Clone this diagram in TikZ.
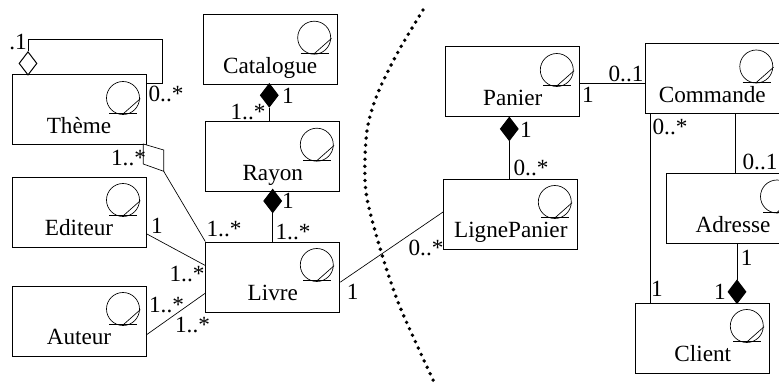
\documentclass[tikz,border=0pt]{standalone}
\usepackage{fontspec}
\setmainfont{Liberation Serif}
\usepackage{tikz}
\usetikzlibrary{shapes.geometric}
\tikzset{
  classe/.style = 	{shape=rectangle, draw, inner sep=0pt, align=center,
				text width=100.5pt, text height=43.9pt, text depth=8.6pt,
				path picture={
					\draw [icone] ([shift={(-23,23)}]path picture bounding box.north east) circle [radius=16.5];
					\draw [icone] ([shift={(-36.7,38.7)}]path picture bounding box.north east) -- ++(28,0);
					\draw [icone] ([shift={(-22.7,38.7)}]path picture bounding box.north east) -- ++(17,-15);
				}},
  icone/.style = 	{line width=0.5pt},
  losange/.style = 	{shape=diamond, draw, inner sep=0pt, minimum width=13.5pt, minimum height=17.6pt},
  vide/.style = 	{losange, fill=white},
  plein/.style = 	{losange, fill=black},
  mult/.style = 	{anchor=base, inner sep=0pt},
  lien/.style = 	{draw, line width=0.7pt},
  frontiere/.style = 	{line width=2.9pt, line cap=round, dash pattern=on 0pt off 5.3pt},
}
\begin{document}
\begin{tikzpicture}
	[
		x                 = 0.75pt,
		y                 = -0.75pt,
		line width        = 0.75pt,
		every node/.style = {font=\fontsize{17.4}{20}\selectfont}
	]
	\path [use as bounding box, clip] (0,0) rectangle (779,385);
	% classes
	\node [classe] (theme) at (79,110) {Thème};
	\node [classe] (editeur) at (79,212) {Editeur};
	\node [classe] (auteur) at (79,321) {Auteur};
	\node [classe] (catalogue) at (270.2,49.7) {Catalogue};
	\node [classe] (rayon) at (272.8,156.7) {Rayon};
	\node [classe] (livre) at (272.8,277) {Livre};
	\node [classe] (panier) at (512.8,82) {Panier};
	\node [classe] (lignepanier) at (510.8,214) {LignePanier};
	\node [classe] (commande) at (712.3,78.5) {Commande};
	\node [classe] (adresse) at (733,208.5) {Adresse};
	\node [classe] (client) at (702.8,338) {Client};
	% losanges
	\node [vide] (dTheme) at (28,63.4) {};
	\node [plein] (dCatalogue) at (269.3,95.3) {};
	\node [plein] (dRayon) at (272.7,201) {};
	\node [plein] (dPanier) at (509.3,128.9) {};
	\node [plein] (dClient) at (737,291.8) {};
	\coordinate (boucle) at (162.5,39.5);
	\coordinate (agrA) at (163.7,150);
	\coordinate (agrB) at (163.7,171.3);
	\coordinate (agrC) at (143.3,164);
	\coordinate (agrD) at (143.3,144);
	% associations
	\draw [lien] ([yshift=-6.75pt]theme.north east) -| (boucle) -| (dTheme.north);
	\draw [lien, line width=0.5pt, fill=white] (agrD) -- (agrA) -- (agrB) -- (agrC) -- cycle;
	\draw [lien, line width=0.5pt] (agrB) -- (livre.north west);
	\draw [lien, line width=0.5pt] ([yshift=10.3pt]editeur.south east) -- ([yshift=-18pt]livre.north west);
	\draw [lien, line width=0.5pt] ([yshift=16.3pt]auteur.south east) -- ([yshift=14.5pt]livre.south west);
	\draw [lien, line width=0.5pt] ([yshift=-30.5pt]livre.north east) -- ([yshift=-25pt]lignepanier.north west);
	\draw [lien] (dCatalogue.south) -- (dCatalogue.south |- rayon.north);
	\draw [lien] (dRayon.south) -- (dRayon.south |- livre.north);
	\draw [lien] (dPanier.south) -- (dPanier.south |- lignepanier.north);
	\draw [lien] ([yshift=-27.6pt]panier.north east) -- ([yshift=-27.6pt]panier.north east -| commande.west);
	\draw [lien, line width=0.5pt] ([xshift=3.9pt]commande.south west) -- ([xshift=3.9pt]commande.south west |- client.north);
	\draw [lien, line width=0.5pt] ([xshift=68pt]commande.south west) -- ([xshift=68pt]commande.south west |- adresse.north);
	\draw [lien, line width=0.5pt] (dClient.north |- adresse.south) -- (dClient.north);
	% multiplicites
	\node [mult] (m1) at (18,50) {.1};
	\node [mult] (m2) at (166,101.7) {0..*};
	\node [mult] (m3) at (128.5,166) {1..*};
	\node [mult] (m4) at (248,119) {1..*};
	\node [mult] (m5) at (288,103.3) {1};
	\node [mult] (m6) at (288,209) {1};
	\node [mult] (m7) at (224,236.7) {1..*};
	\node [mult] (m8) at (293,239) {1..*};
	\node [mult] (m9) at (157,233) {1};
	\node [mult] (m10) at (187,281) {1..*};
	\node [mult] (m11) at (166.5,312.7) {1..*};
	\node [mult] (m12) at (192.5,332) {1..*};
	\node [mult] (m13) at (352.7,299) {1};
	\node [mult] (m14) at (426,255) {0..*};
	\node [mult] (m15) at (588,103) {1};
	\node [mult] (m16) at (626,81.7) {0..1};
	\node [mult] (m17) at (526,137.7) {1};
	\node [mult] (m18) at (531,175.7) {0..*};
	\node [mult] (m19) at (670,135) {0..*};
	\node [mult] (m20) at (760,170) {0..1};
	\node [mult] (m21) at (746.7,265.7) {1};
	\node [mult] (m22) at (657,296.7) {1};
	\node [mult] (m23) at (720,299) {1};
	% frontiere
	\draw [frontiere] plot [smooth] coordinates {(423,10) (398,52) (377,95) (366.7,133) (365.7,190) (380,248) (400,307) (435,384)};
\end{tikzpicture}
\end{document}
